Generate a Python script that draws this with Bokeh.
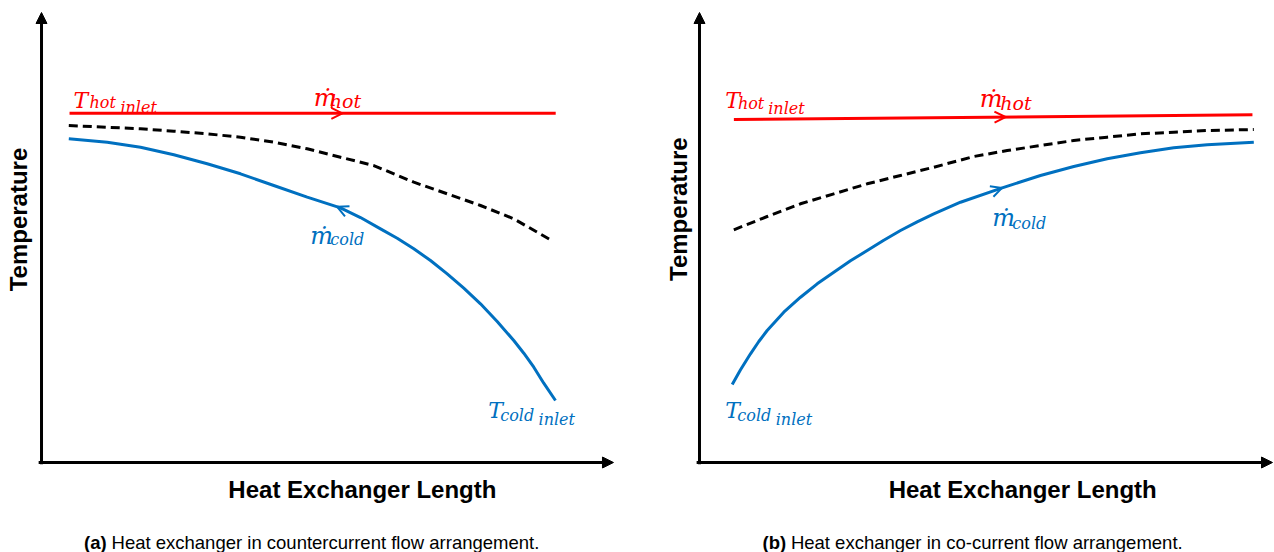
import numpy as np
from bokeh.plotting import figure
from bokeh.layouts import row
from bokeh.models import Range1d, Label, Arrow, NormalHead, OpenHead
from bokeh.embed import file_html
from bokeh.resources import INLINE

# ---- data: normalised length (0-100) vs temperature (0-100) ----
# (a) countercurrent
len_hot_a = [4.9, 89.9]
temp_hot_a = [77.6, 77.6]
len_wall_a = [4.77, 11.49, 17.31, 23.13, 28.97, 34.79, 40.61, 46.45, 52.27, 58.09,
              65.09, 70.93, 76.75, 82.57, 88.98]
temp_wall_a = [74.89, 74.51, 74.16, 73.62, 73.04, 72.29, 71.18, 69.71, 67.84, 66.0,
               62.29, 59.71, 57.11, 54.16, 49.49]
len_cold_a = [4.77, 11.49, 17.31, 23.13, 28.97, 34.79, 40.61, 46.45, 52.27, 55.77,
              59.27, 62.19, 65.09, 68.01, 70.93, 73.83, 76.75, 79.67, 82.57, 84.32,
              86.07, 87.81, 89.86]
temp_cold_a = [71.93, 71.18, 70.07, 68.38, 66.38, 64.16, 61.56, 58.96, 56.60, 54.44,
               51.93, 49.84, 47.49, 44.89, 41.93, 38.73, 35.27, 31.33, 27.11, 24.29,
               21.18, 17.62, 13.78]

# (b) co-current
len_hot_b = [6.0, 96.5]
temp_hot_b = [76.2, 77.3]
len_wall_b = [5.99, 11.81, 17.63, 23.44, 29.27, 35.08, 40.89, 47.87, 53.70, 59.51,
              65.32, 71.15, 76.96, 82.77, 88.60, 96.74]
temp_wall_b = [51.71, 54.67, 57.49, 59.71, 61.93, 63.78, 65.62, 68.0, 69.33, 70.44,
               71.56, 72.29, 73.04, 73.40, 73.78, 74.0]
len_cold_b = [5.71, 7.16, 8.90, 10.35, 11.81, 14.71, 17.63, 20.54, 23.44, 26.35,
              29.27, 32.16, 35.08, 37.99, 40.89, 45.55, 52.83, 59.51, 65.32, 71.15,
              76.96, 82.77, 88.60, 96.74]
temp_cold_b = [17.33, 20.6, 24.16, 26.89, 29.33, 33.40, 36.73, 39.71, 42.29, 44.82,
               47.11, 49.40, 51.56, 53.49, 55.27, 57.84, 61.04, 63.78, 65.78, 67.49,
               68.82, 69.93, 70.60, 71.18]

# positions of the flow-direction markers along each stream (length units)
flow_hot_a, flow_cold_a = 52.6, 51.7
flow_hot_b, flow_cold_b = 53.4, 52.8

RED = "#ff0000"
BLUE = "#0070c0"
MATH = "DejaVu Serif"
SANS = "Liberation Sans"


def make_fig(x0, x1):
    p = figure(width=637, height=552, output_backend="svg", toolbar_location=None,
               x_range=Range1d(x0, x1), y_range=Range1d(-20, 102.67),
               min_border=0, tools="")
    p.axis.visible = False
    p.grid.visible = False
    p.outline_line_color = None
    # hand-drawn axes with arrow heads
    p.add_layout(Arrow(x_start=0, y_start=-0.4, x_end=0, y_end=100, line_width=3,
                       end=NormalHead(size=11, fill_color="black", line_color="black")))
    p.add_layout(Arrow(x_start=-0.5, y_start=0, x_end=100, y_end=0, line_width=3,
                       end=NormalHead(size=11, fill_color="black", line_color="black")))
    return p


def txt(p, x, y, s, size, color="black", font=MATH, style="italic",
        align="left", baseline="alphabetic", angle=0.0):
    p.add_layout(Label(x=x, y=y, text=s, text_font=font, text_font_style=style,
                       text_font_size=f"{size}px", text_color=color,
                       text_align=align, text_baseline=baseline, angle=angle))


def flow_marker(p, xs, ys, at, color, backwards=False):
    step = -2.5 if backwards else 2.5
    xe = at
    xs0 = at - step
    ye = float(np.interp(xe, xs, ys))
    ys0 = float(np.interp(xs0, xs, ys))
    p.add_layout(Arrow(x_start=xs0, y_start=ys0, x_end=xe, y_end=ye, line_alpha=0,
                       end=OpenHead(size=11, line_color=color, line_width=2)))


def draw_streams(p, lh, th, lw, tw, lc, tc):
    p.line(lh, th, line_color=RED, line_width=3)
    p.line(lw, tw, line_color="black", line_width=3, line_dash="9 5",
           line_join="round")
    p.line(lc, tc, line_color=BLUE, line_width=3, line_join="round")


def axis_titles(p, ty, tx_len, ty_x):
    txt(p, ty_x, ty, "Temperature", 24, font=SANS, style="bold",
        align="center", baseline="middle", angle=np.pi / 2)
    txt(p, tx_len, -6.0, "Heat Exchanger Length", 24, font=SANS, style="bold",
        align="center", baseline="middle")


# ---- (a) countercurrent ----
pa = make_fig(-7.17, 104.2)
draw_streams(pa, len_hot_a, temp_hot_a, len_wall_a, temp_wall_a, len_cold_a, temp_cold_a)
flow_marker(pa, len_hot_a, temp_hot_a, flow_hot_a, RED)
flow_marker(pa, len_cold_a, temp_cold_a, flow_cold_a, BLUE, backwards=True)
axis_titles(pa, 54.0, 56.1, -4.0)

txt(pa, 5.6, 80.4, "T", 22, RED)
txt(pa, 8.4, 79.9, "hot", 16, RED)
txt(pa, 13.8, 78.8, "inlet", 16, RED)
txt(pa, 47.6, 81.1, "ṁ", 24, RED)
txt(pa, 50.4, 80.4, "hot", 19, RED)
txt(pa, 47.0, 50.4, "ṁ", 24, BLUE)
txt(pa, 50.5, 49.6, "cold", 16, BLUE)
txt(pa, 78.1, 11.6, "T", 22, BLUE)
txt(pa, 80.2, 10.4, "cold", 16, BLUE)
txt(pa, 86.9, 9.5, "inlet", 16, BLUE)

txt(pa, 7.43, -17.7, "(a)", 18.5, font=SANS, style="bold")
txt(pa, 12.24, -17.7, "Heat exchanger in countercurrent flow arrangement.", 18.5,
    font=SANS, style="normal")

# ---- (b) co-current ----
pb = make_fig(-10.82, 100.35)
draw_streams(pb, len_hot_b, temp_hot_b, len_wall_b, temp_wall_b, len_cold_b, temp_cold_b)
flow_marker(pb, len_hot_b, temp_hot_b, flow_hot_b, RED)
flow_marker(pb, len_cold_b, temp_cold_b, flow_cold_b, BLUE)
axis_titles(pb, 56.3, 56.4, -3.6)

txt(pb, 4.5, 80.4, "T", 22, RED)
txt(pb, 6.7, 79.8, "hot", 16, RED)
txt(pb, 12.0, 78.7, "inlet", 16, RED)
txt(pb, 48.9, 80.7, "ṁ", 24, RED)
txt(pb, 52.5, 79.8, "hot", 19, RED)
txt(pb, 51.1, 54.4, "ṁ", 24, BLUE)
txt(pb, 54.6, 53.2, "cold", 16, BLUE)
txt(pb, 4.5, 11.6, "T", 22, BLUE)
txt(pb, 6.6, 10.4, "cold", 16, BLUE)
txt(pb, 13.3, 9.5, "inlet", 16, BLUE)

txt(pb, 11.0, -17.7, "(b)", 18.5, font=SANS, style="bold")
txt(pb, 15.95, -17.7, "Heat exchanger in co-current flow arrangement.", 18.5,
    font=SANS, style="normal")

layout = row(pa, pb)
open("out.html", "w").write(file_html(layout, INLINE))
